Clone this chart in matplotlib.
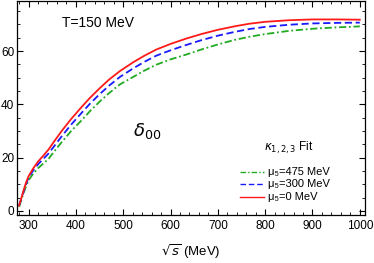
import numpy as np
import matplotlib
matplotlib.use('Agg')
import matplotlib.pyplot as plt
from matplotlib.ticker import MultipleLocator

plt.rcParams['font.family'] = ['Liberation Sans', 'DejaVu Sans']
plt.rcParams['mathtext.fontset'] = 'dejavusans'

# sqrt(s) in MeV, phase shift delta_00 in degrees
s_vals = [280, 285, 290, 295, 300, 310, 320, 330, 342, 355, 370, 390, 412, 430, 450, 470,
          493, 521, 545, 570, 600, 633, 665, 700, 735, 767, 800, 850, 900, 950, 1000]
d_red = [2, 5, 8, 10.8, 13, 16, 18.5, 20.5, 23, 26.3, 30, 34.5, 39, 42.5, 46, 49.3,
         52.5, 55.8, 58.3, 60.6, 62.7, 64.7, 66.4, 68, 69.3, 70.3, 71, 71.6, 71.9, 71.9, 71.8]
d_blue = [2, 4.8, 7.5, 10.2, 12.5, 15.2, 17.5, 19.3, 21.5, 24.5, 28, 32.4, 36.8, 40.3, 43.8, 47,
          50.3, 53.5, 56, 58.3, 60.3, 62.3, 64.1, 65.8, 67.2, 68.3, 69.1, 69.9, 70.4, 70.6, 70.7]
d_green = [1.5, 4.3, 7, 9.4, 11.5, 14, 16, 17.6, 19.5, 22.5, 25.8, 30, 34, 37.5, 41, 44.2,
           47.5, 50.3, 52.7, 54.9, 56.9, 58.7, 60.6, 62.5, 64.2, 65.4, 66.4, 67.6, 68.4, 68.9, 69.3]

labels = ['\u03bc\u2085=475 MeV', '\u03bc\u2085=300 MeV', '\u03bc\u2085=0 MeV']
cols = ['#22aa22', '#1a1aff', '#ff1a1a']
styles = [(0, (4, 1.5, 1, 1.5)), (0, (4, 2)), '-']

fig = plt.figure(figsize=(3.74, 2.63), dpi=100)
ax = fig.add_axes([0.046, 0.183, 0.930, 0.815])

for d, c, st in zip([d_green, d_blue, d_red], cols, styles):
    ax.plot(s_vals, d, color=c, lw=1.3, ls=st)

ax.set_xlim(276, 1011)
ax.set_ylim(-1.5, 79)
ax.xaxis.set_major_locator(MultipleLocator(100))
ax.xaxis.set_minor_locator(MultipleLocator(20))
ax.yaxis.set_major_locator(MultipleLocator(20))
ax.yaxis.set_minor_locator(MultipleLocator(5))
ax.tick_params(which='both', direction='in', top=True, right=True, labelsize=8.5)
ax.tick_params(axis='x', pad=4)
ax.tick_params(axis='y', pad=2)
ax.tick_params(which='major', length=4, width=0.8)
ax.tick_params(which='minor', length=2, width=0.6)
for sp in ax.spines.values():
    sp.set_linewidth(0.9)

ax.set_xlabel(r'$\sqrt{s}$ (MeV)', fontsize=9.5, labelpad=7)

ax.text(0.129, 0.897, 'T=150 MeV', transform=ax.transAxes, fontsize=10, va='center')
ax.text(0.333, 0.39, r'$\delta_{00}$', transform=ax.transAxes, fontsize=13, va='center')
ax.text(0.782, 0.313, r'$\kappa_{1,2,3}$ Fit', transform=ax.transAxes, fontsize=8.5, ha='center', va='center')

# legend entries
ys = [0.20, 0.142, 0.084]
for c, st, y, lab in zip(cols, styles, ys, labels):
    ax.plot([0.641, 0.710], [y, y], transform=ax.transAxes, color=c, lw=1.0, ls=st)
    ax.text(0.722, y, lab, transform=ax.transAxes, fontsize=8, va='center')

fig.savefig('out.png', dpi=100)
